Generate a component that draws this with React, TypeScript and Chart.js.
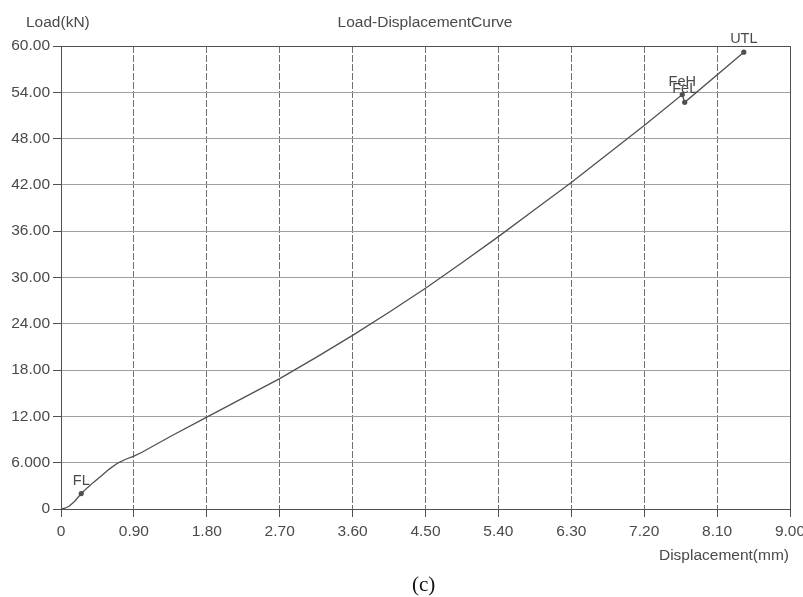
import React, { useEffect, useRef } from "react";
import { Chart, registerables } from "chart.js";

Chart.register(...registerables);

// Load-displacement curve (mm, kN)
const dispMm = [0, 0.05, 0.1, 0.17, 0.25, 0.33, 0.4, 0.5, 0.6, 0.7, 0.8, 0.9, 1.0, 1.35, 1.8, 2.25, 2.7, 3.15, 3.6, 4.05, 4.5, 4.95, 5.4, 5.85, 6.3, 6.75, 7.2, 7.67, 7.7, 8.43];
const loadKN = [0, 0.1, 0.35, 1.0, 2.0, 2.8, 3.45, 4.3, 5.2, 5.95, 6.45, 6.86, 7.35, 9.4, 11.9, 14.4, 16.9, 19.65, 22.5, 25.5, 28.6, 31.9, 35.3, 38.8, 42.3, 46.0, 49.7, 53.7, 52.7, 59.2];

// Marked characteristic points
const markNames = ["FL", "FeH", "FeL", "UTL"];
const markX = [0.25, 7.67, 7.7, 8.43];
const markY = [2.0, 53.7, 52.7, 59.2];

// Axis ticks
const xTicks = [0, 0.9, 1.8, 2.7, 3.6, 4.5, 5.4, 6.3, 7.2, 8.1, 9.0];
const xTickLabels = ["0", "0.90", "1.80", "2.70", "3.60", "4.50", "5.40", "6.30", "7.20", "8.10", "9.00"];
const yTicks = [0, 6, 12, 18, 24, 30, 36, 42, 48, 54, 60];
const yTickLabels = ["0", "6.000", "12.00", "18.00", "24.00", "30.00", "36.00", "42.00", "48.00", "54.00", "60.00"];

const titleText = "Load-DisplacementCurve";
const yTitle = "Load(kN)";
const xTitle = "Displacement(mm)";

const FONT = '"Liberation Sans", Arial, sans-serif';
const TEXT = "#4a4a4a";
const INK = "#505050";

const textPlugin = {
  id: "textPlugin",
  afterDraw(chart: any) {
    const { ctx, chartArea } = chart;
    ctx.save();
    // frame top and right
    ctx.strokeStyle = INK;
    ctx.lineWidth = 1;
    ctx.beginPath();
    ctx.moveTo(Math.round(chartArea.left) + 0.5, Math.round(chartArea.top) + 0.5);
    ctx.lineTo(Math.round(chartArea.right) + 0.5, Math.round(chartArea.top) + 0.5);
    ctx.lineTo(Math.round(chartArea.right) + 0.5, Math.round(chartArea.bottom) + 0.5);
    ctx.stroke();

    ctx.fillStyle = TEXT;
    ctx.textBaseline = "alphabetic";
    ctx.font = `15.5px ${FONT}`;
    ctx.textAlign = "center";
    ctx.fillText(titleText, 425, 27);
    ctx.textAlign = "left";
    ctx.fillText(yTitle, 26, 27);
    ctx.textAlign = "right";
    ctx.fillText(xTitle, 789, 560);

    const meta = chart.getDatasetMeta(1);
    ctx.font = `14.5px ${FONT}`;
    ctx.textAlign = "center";
    meta.data.forEach((pt: any, i: number) => {
      ctx.fillText(markNames[i], pt.x, pt.y - 9);
    });
    ctx.restore();
  },
};

export default function App() {
  const ref = useRef<HTMLCanvasElement | null>(null);
  useEffect(() => {
    if (!ref.current) return;
    const chart = new Chart(ref.current, {
      type: "scatter",
      data: {
        datasets: [
          {
            data: dispMm.map((x, i) => ({ x, y: loadKN[i] })),
            showLine: true,
            tension: 0,
            borderColor: INK,
            borderWidth: 1.3,
            pointRadius: 0,
          } as any,
          {
            data: markX.map((x, i) => ({ x, y: markY[i] })),
            showLine: false,
            pointRadius: 2.6,
            backgroundColor: INK,
            borderColor: INK,
            borderWidth: 0,
          },
        ],
      },
      options: {
        animation: false,
        responsive: true,
        maintainAspectRatio: false,
        layout: { padding: { top: 46, right: 13, left: 0, bottom: 0 } },
        plugins: {
          legend: { display: false },
          tooltip: { enabled: false },
          title: { display: false },
        },
        scales: {
          x: {
            type: "linear",
            min: 0,
            max: 9,
            afterBuildTicks: (s: any) => {
              s.ticks = xTicks.map((v) => ({ value: v }));
            },
            afterFit: (s: any) => {
              s.height = 88;
              s.paddingLeft = 0;
              s.paddingRight = 0;
            },
            ticks: {
              callback: (_v: any, i: number) => xTickLabels[i],
              font: { family: FONT, size: 15.5 },
              color: TEXT,
              padding: 5,
              maxRotation: 0,
              autoSkip: false,
            },
            grid: {
              color: "#707070",
              lineWidth: 1,
              tickLength: 8,
              tickColor: INK,
            },
            border: { display: true, color: INK, width: 1, dash: [7, 2] },
          },
          y: {
            type: "linear",
            min: 0,
            max: 60,
            afterBuildTicks: (s: any) => {
              s.ticks = yTicks.map((v) => ({ value: v }));
            },
            afterFit: (s: any) => {
              s.width = 61;
              s.paddingTop = 0;
              s.paddingBottom = 0;
            },
            ticks: {
              callback: (_v: any, i: number) => yTickLabels[i],
              font: { family: FONT, size: 15.5 },
              color: TEXT,
              padding: 3,
              autoSkip: false,
            },
            grid: {
              color: "#a0a0a0",
              lineWidth: 1,
              tickLength: 8,
              tickColor: INK,
            },
            border: { display: true, color: INK, width: 1 },
          },
        },
      },
      plugins: [textPlugin],
    } as any);
    return () => chart.destroy();
  }, []);

  return (
    <div style={{ position: "fixed", left: 0, top: 0, width: 803, height: 597, background: "#fff", overflow: "hidden" }}>
      <div style={{ position: "absolute", left: 0, top: 0, width: 803, height: 597 }}>
        <canvas ref={ref} />
      </div>
      <div
        style={{
          position: "absolute",
          left: 412,
          top: 574,
          fontFamily: '"Liberation Serif", "Times New Roman", serif',
          fontSize: 21,
          lineHeight: "21px",
          color: "#111",
        }}
      >
        (c)
      </div>
    </div>
  );
}
